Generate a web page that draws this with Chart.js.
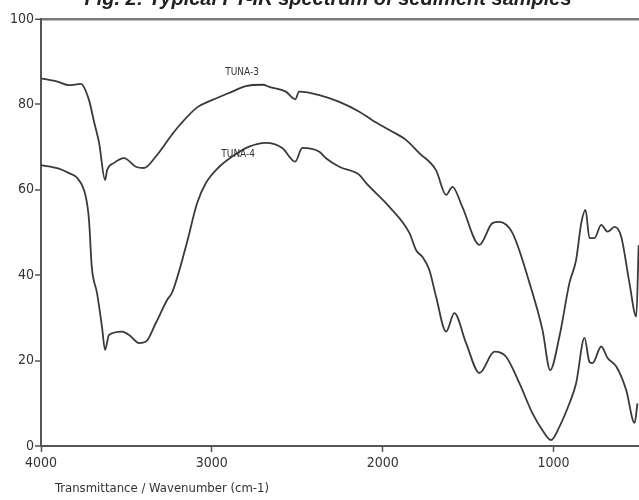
<!DOCTYPE html>
<html>
<head>
<meta charset="utf-8">
<script src="https://cdn.jsdelivr.net/npm/chart.js@4.4.1/dist/chart.umd.min.js"></script>
<style>
  html, body { margin: 0; padding: 0; background: #fff; }
  .chart-wrap { width: 639px; height: 500px; position: relative; }
</style>
</head>
<body>
<div class="chart-wrap"><canvas id="ftir-chart" width="639" height="500"></canvas></div>
<script>
const chartTitle = "Fig. 2: Typical FT-IR spectrum of sediment samples";
const xAxisTitle = "Transmittance / Wavenumber (cm-1)";
const seriesNames = ["TUNA-3", "TUNA-4"];

const xTickValues = [4000, 3000, 2000, 1000];
const yTickValues = [0, 20, 40, 60, 80, 100];

// wavenumber (cm-1) / transmittance (%)
const tuna3Wn = [4000, 3900, 3836, 3767, 3719, 3690, 3660, 3625, 3613, 3572, 3514, 3445, 3397, 3328, 3232, 3192, 3086, 3000, 2881, 2801, 2700, 2664, 2567, 2512, 2489, 2371, 2254, 2137, 2061, 1961, 1864, 1786, 1688, 1629, 1592, 1534, 1434, 1358, 1317, 1241, 1141, 1065, 1020, 966, 907, 868, 838, 813, 790, 761, 721, 684, 643, 604, 556, 516, 502];
const tuna3T = [86.1, 85.3, 84.5, 84.8, 81, 76, 71, 62.3, 64.6, 66.3, 67.4, 65.4, 65.1, 67.8, 73, 75, 79.3, 81, 83, 84.3, 84.6, 84.1, 83, 81.2, 83, 82.2, 80.6, 78.3, 76.3, 74, 71.7, 68.6, 64.6, 58.8, 60.7, 56, 47.1, 52.2, 52.5, 49.9, 38.2, 27.2, 17.8, 25.6, 38.2, 43.6, 52.2, 55.3, 48.7, 48.7, 51.8, 50.2, 51.3, 49, 38.2, 30.3, 47];

const tuna4Wn = [4000, 3900, 3836, 3789, 3738, 3719, 3703, 3672, 3643, 3625, 3602, 3525, 3484, 3426, 3387, 3328, 3262, 3232, 3152, 3086, 3035, 2957, 2881, 2782, 2684, 2588, 2512, 2471, 2371, 2332, 2254, 2137, 2098, 1961, 1844, 1805, 1768, 1727, 1688, 1629, 1581, 1512, 1434, 1346, 1278, 1200, 1124, 1065, 1015, 966, 907, 868, 819, 790, 772, 721, 684, 633, 575, 526, 509];
const tuna4T = [65.8, 65, 63.9, 62.8, 58.4, 52.9, 42, 35.8, 27.9, 22.5, 26, 26.8, 26, 24.1, 24.4, 28.8, 34.2, 36, 46.7, 56.9, 61.6, 65.4, 67.8, 70.1, 71, 69.8, 66.6, 69.8, 68.9, 67.4, 65.4, 63.5, 61.6, 56, 49.9, 45.9, 44.3, 41.2, 35, 26.8, 31.1, 24.1, 17.1, 22.1, 20.9, 14.7, 7.7, 3.7, 1.4, 4.5, 10, 14.7, 25.3, 19.7, 19.4, 23.3, 20.6, 18.6, 13.1, 5.4, 10];

// where the curve names sit, in data units
const labelWn = [2823, 2846];
const labelT = [87.6, 68.2];

const toPoints = (wn, t) => wn.map((w, i) => ({ x: w, y: t[i] }));

const lineColor = "#3a3a3a";
const axisColor = "#555";
const labelFont = "'DejaVu Sans Condensed', 'Liberation Sans', Arial, sans-serif";

const textPlugin = {
  id: "ftirText",
  afterDraw(chart) {
    const ctx = chart.ctx;
    const xScale = chart.scales.x;
    const yScale = chart.scales.y;
    ctx.save();

    // title, cut off at the top like the scan
    ctx.fillStyle = "#222";
    ctx.font = "italic bold 20px 'Liberation Sans', Arial, sans-serif";
    ctx.textAlign = "center";
    ctx.textBaseline = "alphabetic";
    ctx.fillText(chartTitle, 328, 5);

    // curve names
    ctx.fillStyle = "#333";
    ctx.font = "10px " + labelFont;
    ctx.textBaseline = "middle";
    seriesNames.forEach((name, i) => {
      ctx.fillText(name, xScale.getPixelForValue(labelWn[i]), yScale.getPixelForValue(labelT[i]));
    });

    // axis title
    ctx.font = "13px " + labelFont;
    ctx.textAlign = "left";
    ctx.fillText(xAxisTitle, 55, 489);
    ctx.restore();
  },
};

const cfg = {
  type: "line",
  data: {
    datasets: [
      {
        label: seriesNames[0],
        data: toPoints(tuna3Wn, tuna3T),
        borderColor: lineColor,
        borderWidth: 1.8,
        pointRadius: 0,
        cubicInterpolationMode: "monotone",
      },
      {
        label: seriesNames[1],
        data: toPoints(tuna4Wn, tuna4T),
        borderColor: lineColor,
        borderWidth: 1.8,
        pointRadius: 0,
        cubicInterpolationMode: "monotone",
      },
    ],
  },
  options: {
    responsive: false,
    animation: false,
    devicePixelRatio: 1,
    layout: { padding: { top: 19, right: 0, left: 0, bottom: 0 } },
    plugins: {
      legend: { display: false },
      tooltip: { enabled: false },
    },
    scales: {
      x: {
        type: "linear",
        reverse: true,
        min: 500,
        max: 4000,
        afterBuildTicks: (scale) => {
          scale.ticks = xTickValues.map((v) => ({ value: v }));
        },
        afterFit: (scale) => {
          scale.height = 54;
        },
        grid: {
          drawOnChartArea: false,
          drawTicks: true,
          tickLength: 6,
          tickColor: axisColor,
          tickWidth: 1.5,
        },
        border: { display: true, color: axisColor, width: 2 },
        ticks: {
          autoSkip: false,
          maxRotation: 0,
          padding: 3,
          color: "#333",
          font: { family: labelFont, size: 14 },
          callback: (v) => String(v),
        },
      },
      y: {
        min: 0,
        max: 100,
        afterBuildTicks: (scale) => {
          scale.ticks = yTickValues.map((v) => ({ value: v }));
        },
        afterFit: (scale) => {
          scale.width = 41;
        },
        grid: {
          color: (c) => (c.tick && c.tick.value === 100 ? "#7a7a7a" : "rgba(0,0,0,0)"),
          lineWidth: (c) => (c.tick && c.tick.value === 100 ? 2.5 : 0),
          drawTicks: true,
          tickLength: 6,
          tickColor: axisColor,
          tickWidth: 1.5,
        },
        border: { display: true, color: axisColor, width: 2 },
        ticks: {
          padding: 1,
          color: "#333",
          font: { family: labelFont, size: 14 },
          callback: (v) => String(v),
        },
      },
    },
  },
  plugins: [textPlugin],
};

new Chart(document.getElementById("ftir-chart"), cfg);
</script>
</body>
</html>
